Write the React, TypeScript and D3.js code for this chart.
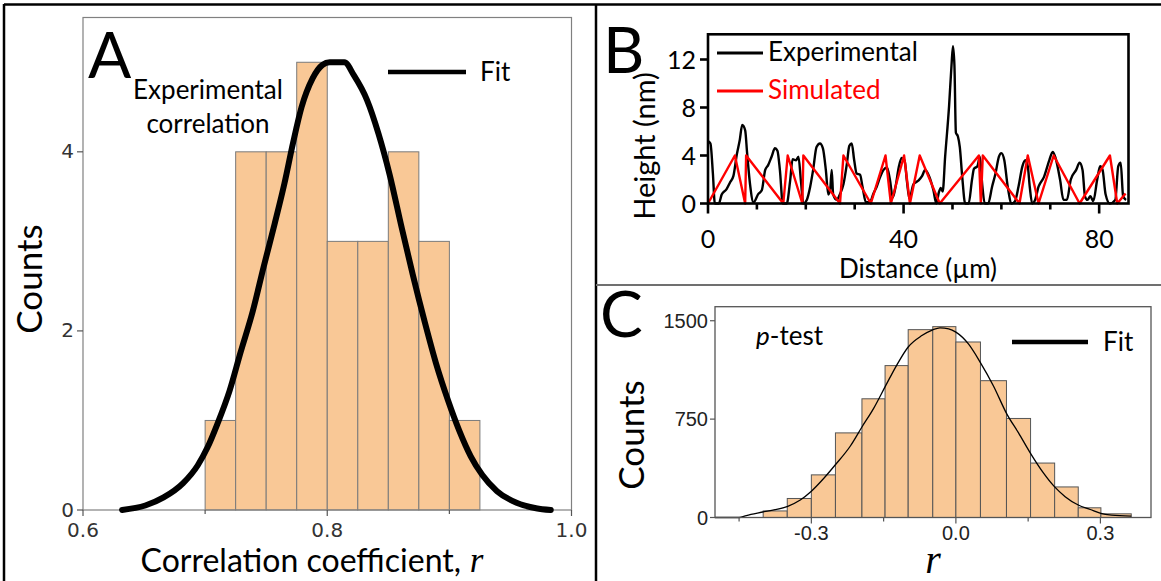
import React from 'react';
import * as d3 from 'd3';

// ---------- Panel A data ----------
const A_BIN_EDGES = [0.70, 0.725, 0.75, 0.775, 0.80, 0.825, 0.85, 0.875, 0.90, 0.925];
const A_COUNTS = [1, 4, 4, 5, 3, 3, 4, 3, 1];
const A_FIT_X = [0.632, 0.651, 0.666, 0.682, 0.694, 0.702, 0.710, 0.720, 0.729, 0.739, 0.748, 0.757, 0.765, 0.772, 0.779, 0.788, 0.796, 0.802, 0.814, 0.822, 0.8325, 0.842, 0.851, 0.861, 0.870, 0.880, 0.889, 0.899, 0.908, 0.9175, 0.927, 0.939, 0.955, 0.971, 0.983];
const A_FIT_Y = [0, 0.05, 0.14, 0.3, 0.5, 0.7, 0.96, 1.33, 1.76, 2.22, 2.72, 3.2, 3.65, 4.1, 4.5, 4.82, 4.97, 5.0, 5.0, 4.85, 4.58, 4.2, 3.75, 3.15, 2.63, 2.09, 1.64, 1.22, 0.89, 0.6, 0.39, 0.21, 0.08, 0.02, 0];
const A_X_TICKS = [0.6, 0.8, 1.0];
const A_X_TICK_LABELS = ['0.6', '0.8', '1.0'];
const A_X_MINOR = [0.7, 0.9];
const A_Y_TICKS = [0, 2, 4];

// ---------- Panel B data ----------
const B_EXP_X = [0, 0.5, 1.0, 1.4, 2.2, 2.8, 3.8, 4.5, 5.2, 5.9, 6.5, 7.0, 7.6, 8.0, 8.6, 9.3, 10.3, 11.0, 11.7, 12.3, 13.0, 13.7, 14.2, 14.7, 15.3, 16.1, 16.8, 17.3, 18.0, 18.5, 19.0, 19.5, 20.2, 20.9, 21.5, 22.2, 22.9, 23.5, 24.1, 24.6, 25.0, 25.3, 25.6, 26.3, 27.0, 27.7, 28.4, 28.9, 29.4, 29.9, 30.4, 31.1, 31.6, 32.3, 33.1, 33.8, 34.5, 35.2, 35.9, 36.6, 37.2, 37.8, 38.4, 39.0, 39.6, 40.2, 40.7, 41.2, 42.0, 43.0, 43.8, 44.4, 45.3, 46.1, 46.7, 47.2, 47.6, 48.0, 48.5, 49.3, 49.8, 50.1, 50.4, 50.7, 51.1, 51.5, 52.0, 52.6, 53.3, 54.0, 54.4, 55.1, 55.6, 56.1, 56.6, 57.3, 58.1, 58.8, 59.5, 60.0, 60.6, 61.3, 62.1, 62.8, 63.5, 64.3, 64.9, 65.4, 65.8, 66.3, 66.9, 67.6, 68.7, 69.8, 70.5, 71.0, 72.0, 72.7, 73.4, 74.2, 75.3, 76.0, 76.6, 77.1, 77.6, 78.2, 78.8, 79.6, 80.2, 80.7, 81.3, 82.2, 83.3, 83.9, 84.4, 84.9, 85.5];
const B_EXP_Y = [5.2, 5.0, 2.5, 0, 0, 0.75, 1.2, 1.75, 2.3, 4.1, 5.3, 6.55, 6.1, 4.2, 1.6, 0.1, 0.8, 1.1, 2.8, 3.2, 3.9, 4.6, 4.4, 2.8, 0, 0, 1.9, 3.7, 3.6, 3.9, 1.9, 0, 0.3, 1.4, 2.8, 4.7, 5.0, 4.6, 2.8, 0.75, 1.2, 2.8, 0.75, 0.3, 0.8, 1.6, 3.3, 4.8, 5.0, 3.6, 2.5, 2.4, 1.4, 0.1, 0.1, 0.8, 1.4, 2.2, 2.8, 3.0, 2.0, 0.5, 1.5, 3.0, 3.8, 3.6, 1.8, 0.4, 1.6, 1.9, 2.3, 2.8, 2.2, 1.1, 0, 0.9, 1.3, 1.0, 3.9, 8.1, 11.5, 13.1, 11.5, 5.9, 5.6, 4.7, 2.2, 0, 0, 2.0, 2.9, 3.1, 3.9, 1.5, 0, 0, 1.4, 2.5, 3.9, 4.2, 3.6, 1.4, 0, 0.2, 1.4, 3.1, 3.6, 3.1, 1.4, 0, 0.3, 1.4, 2.2, 3.6, 4.3, 3.9, 2.0, 0.3, 0.3, 2.0, 2.8, 3.4, 2.8, 0.6, 0.3, 0.6, 0.2, 2.0, 3.1, 2.8, 0.8, 0, 0.3, 3.1, 3.4, 0.6, 0.3];
const B_SIM_X = [0, 5.5, 7.6, 7.8, 15.4, 16.3, 19.3, 19.5, 27.0, 27.7, 33.3, 36.3, 37.4, 40.1, 41.3, 43.3, 47.4, 55.4, 55.8, 56.2, 63.7, 65.4, 67.6, 70.7, 76.0, 82.2, 83.7, 85.4];
const B_SIM_Y = [0, 4, 0, 4, 0, 4, 0, 4, 0, 4, 0, 4, 0, 4, 0, 4, 0, 4, 0, 4, 0, 4, 0, 4, 0, 4, 0, 0.84];
const B_Y_TICKS = [0, 4, 8, 12];
const B_X_TICKS = [0, 10, 20, 30, 40, 50, 60, 70, 80];
const B_X_LABELED = [0, 40, 80];

// ---------- Panel C data ----------
const C_BIN_EDGES = [-0.40, -0.35, -0.30, -0.25, -0.195, -0.147, -0.099, -0.048, 0, 0.051, 0.105, 0.155, 0.205, 0.254, 0.301, 0.364];
const C_COUNTS = [50, 145, 325, 645, 905, 1158, 1432, 1455, 1338, 1043, 755, 415, 233, 74, 28];
const C_FIT_X = [-0.5, -0.45, -0.435, -0.398, -0.349, -0.323, -0.3, -0.275, -0.2506, -0.219, -0.195, -0.171, -0.146, -0.123, -0.099, -0.0706, -0.048, -0.033, -0.0149, 0, 0.026, 0.0506, 0.078, 0.1056, 0.130, 0.1546, 0.182, 0.2045, 0.2268, 0.254, 0.279, 0.301, 0.323, 0.364];
const C_FIT_Y = [0, 0, 15, 44, 85, 133, 200, 295, 400, 545, 690, 830, 1003, 1160, 1300, 1387, 1431, 1446, 1438, 1413, 1323, 1183, 1003, 790, 645, 491, 338, 235, 159, 95, 61, 31, 18, 10];
const C_Y_TICKS = [0, 750, 1500];
const C_X_TICKS = [-0.3, 0, 0.3];
const C_X_TICK_LABELS = ['-0.3', '0.0', '0.3'];
const C_X_MINOR = [-0.45, -0.15, 0.15];

const BAR_FILL = '#F9C896';
const SANS = 'Lato, "Open Sans", sans-serif';

function PanelA() {
  const x = d3.scaleLinear().domain([0.6, 1.0]).range([83, 571.5]);
  const y = d3.scaleLinear().domain([0, 5.5]).range([510, 17.5]);
  const pts: [number, number][] = A_FIT_X.map((v, i) => [v, A_FIT_Y[i]]);
  const line = d3.line<[number, number]>().x(d => x(d[0])).y(d => y(d[1])).curve(d3.curveMonotoneX);
  return (
    <g>
      {A_COUNTS.map((c, i) => (
        <rect key={i} x={x(A_BIN_EDGES[i])} y={y(c)} width={x(A_BIN_EDGES[i + 1]) - x(A_BIN_EDGES[i])}
          height={y(0) - y(c)} fill={BAR_FILL} stroke="#7a7a7a" strokeWidth={1} />
      ))}
      <rect x={x(0.6)} y={y(5.5)} width={x(1.0) - x(0.6)} height={y(0) - y(5.5)} fill="none" stroke="#808080" strokeWidth={1.2} />
      {A_Y_TICKS.map(t => (
        <g key={t}>
          <line x1={x(0.6) - 6} x2={x(0.6)} y1={y(t)} y2={y(t)} stroke="#555" strokeWidth={1.2} />
          <text x={x(0.6) - 9} y={y(t) + 6.5} textAnchor="end" fontFamily="DejaVu Sans" fontSize={20} fill="#333">{t}</text>
        </g>
      ))}
      {A_X_TICKS.map((t, i) => (
        <g key={t}>
          <line x1={x(t)} x2={x(t)} y1={y(0)} y2={y(0) + 6} stroke="#555" strokeWidth={1.2} />
          <text x={x(t)} y={y(0) + 26.5} textAnchor="middle" fontFamily="DejaVu Sans" fontSize={20} fill="#333">{A_X_TICK_LABELS[i]}</text>
        </g>
      ))}
      {A_X_MINOR.map(t => (
        <line key={t} x1={x(t)} x2={x(t)} y1={y(0)} y2={y(0) + 4} stroke="#555" strokeWidth={1.2} />
      ))}
      <path d={line(pts) || ''} fill="none" stroke="#000" strokeWidth={6} strokeLinejoin="round" strokeLinecap="round" />
      <text x={88} y={78} fontFamily={SANS} fontSize={64} fill="#000">A</text>
      <text x={208} y={99} textAnchor="middle" fontFamily={SANS} fontSize={26} fill="#000">Experimental</text>
      <text x={208} y={133} textAnchor="middle" fontFamily={SANS} fontSize={26} fill="#000">correlation</text>
      <line x1={388} x2={466} y1={72} y2={72} stroke="#000" strokeWidth={4.5} />
      <text x={480} y={81} fontFamily={SANS} fontSize={26} fill="#000">Fit</text>
      <text transform="translate(42,279) rotate(-90)" textAnchor="middle" fontFamily={SANS} fontSize={35} fill="#000">Counts</text>
      <text x={312} y={572} textAnchor="middle" fontFamily={SANS} fontSize={32} fill="#000">
        Correlation coefficient,
        <tspan fontFamily='"Liberation Serif", serif' fontStyle="italic" fontSize={35}> r</tspan>
      </text>
    </g>
  );
}

function PanelB() {
  const x = d3.scaleLinear().domain([0, 86]).range([708, 1128.5]);
  const y = d3.scaleLinear().domain([0, 14.1]).range([203.5, 34.3]);
  const line = d3.line<[number, number]>().x(d => x(d[0])).y(d => y(d[1]));
  const exp: [number, number][] = B_EXP_X.map((v, i) => [v, B_EXP_Y[i]]);
  const sim: [number, number][] = B_SIM_X.map((v, i) => [v, B_SIM_Y[i]]);
  const expLine = d3.line<[number, number]>().x(d => x(d[0])).y(d => y(d[1])).curve(d3.curveMonotoneX);
  return (
    <g>
      <path d={expLine(exp) || ''} fill="none" stroke="#000" strokeWidth={2.4} strokeLinejoin="round" />
      <path d={line(sim) || ''} fill="none" stroke="#ff0000" strokeWidth={2.4} strokeLinejoin="round" />
      <rect x={x(0)} y={y(14.1)} width={x(86) - x(0)} height={y(0) - y(14.1)} fill="none" stroke="#000" strokeWidth={2.6} />
      {B_Y_TICKS.map(t => (
        <g key={t}>
          <line x1={x(0) - 8} x2={x(0)} y1={y(t)} y2={y(t)} stroke="#000" strokeWidth={2.6} />
          <text x={x(0) - 12} y={y(t) + 9} textAnchor="end" fontFamily={SANS} fontSize={25} fill="#000">{t}</text>
        </g>
      ))}
      {B_X_TICKS.map(t => (
        <line key={t} x1={x(t)} x2={x(t)} y1={y(0)} y2={y(0) + (B_X_LABELED.includes(t) ? 10 : 6)} stroke="#000" strokeWidth={2.6} />
      ))}
      {B_X_LABELED.map(t => (
        <text key={t} x={x(t)} y={248} textAnchor="middle" fontFamily={SANS} fontSize={25} fill="#000">{t}</text>
      ))}
      <text x={918} y={278} textAnchor="middle" fontFamily={SANS} fontSize={26} fill="#000">Distance (µm)</text>
      <text transform="translate(655,146) rotate(-90)" textAnchor="middle" fontFamily={SANS} fontSize={29} fill="#000">Height (nm)</text>
      <text x={603} y={73} fontFamily={SANS} fontSize={64} fill="#000">B</text>
      <line x1={717} x2={763} y1={53} y2={53} stroke="#000" strokeWidth={3} />
      <text x={768} y={61} fontFamily={SANS} fontSize={26} fill="#000">Experimental</text>
      <line x1={717} x2={763} y1={91} y2={91} stroke="#ff0000" strokeWidth={3} />
      <text x={768} y={99} fontFamily={SANS} fontSize={26} fill="#ff0000">Simulated</text>
    </g>
  );
}

function PanelC() {
  const x = d3.scaleLinear().domain([-0.5, 0.405]).range([715, 1151]);
  const y = d3.scaleLinear().domain([0, 1607]).range([517.5, 306.7]);
  const pts: [number, number][] = C_FIT_X.map((v, i) => [v, C_FIT_Y[i]]);
  const line = d3.line<[number, number]>().x(d => x(d[0])).y(d => y(d[1])).curve(d3.curveMonotoneX);
  return (
    <g>
      {C_COUNTS.map((c, i) => (
        <rect key={i} x={x(C_BIN_EDGES[i])} y={y(c)} width={x(C_BIN_EDGES[i + 1]) - x(C_BIN_EDGES[i])}
          height={y(0) - y(c)} fill={BAR_FILL} stroke="#555" strokeWidth={1} />
      ))}
      <path d={line(pts) || ''} fill="none" stroke="#000" strokeWidth={1.3} />
      <rect x={x(-0.5)} y={y(1607)} width={x(0.405) - x(-0.5)} height={y(0) - y(1607)} fill="none" stroke="#555" strokeWidth={1.3} />
      {C_Y_TICKS.map(t => (
        <g key={t}>
          <line x1={x(-0.5) - 5} x2={x(-0.5)} y1={y(t)} y2={y(t)} stroke="#555" strokeWidth={1.2} />
          <text x={x(-0.5) - 7} y={y(t) + 7} textAnchor="end" fontFamily='"Liberation Sans", Arial' fontSize={20} fill="#222">{t}</text>
        </g>
      ))}
      {C_X_TICKS.map((t, i) => (
        <g key={t}>
          <line x1={x(t)} x2={x(t)} y1={y(0)} y2={y(0) + 6} stroke="#555" strokeWidth={1.2} />
          <text x={x(t)} y={540} textAnchor="middle" fontFamily='"Liberation Sans", Arial' fontSize={20} fill="#222">{C_X_TICK_LABELS[i]}</text>
        </g>
      ))}
      {C_X_MINOR.map(t => (
        <line key={t} x1={x(t)} x2={x(t)} y1={y(0)} y2={y(0) + 4} stroke="#555" strokeWidth={1.2} />
      ))}
      <text x={600} y={337} fontFamily={SANS} fontSize={64} fill="#000">C</text>
      <text x={756} y={345} fontFamily={SANS} fontSize={26} fill="#000">
        <tspan fontStyle="italic">p</tspan>-test
      </text>
      <line x1={1012} x2={1088} y1={342} y2={342} stroke="#000" strokeWidth={4.5} />
      <text x={1103} y={351} fontFamily={SANS} fontSize={26} fill="#000">Fit</text>
      <text transform="translate(644,435) rotate(-90)" textAnchor="middle" fontFamily={SANS} fontSize={35} fill="#000">Counts</text>
      <text x={933} y={573} textAnchor="middle" fontFamily='"Liberation Serif", serif' fontStyle="italic" fontSize={40} fill="#000">r</text>
    </g>
  );
}

export default function App() {
  return (
    <svg width={1161} height={581} viewBox="0 0 1161 581"
      style={{ position: 'absolute', left: 0, top: 0, background: '#fff' }}>
      <rect x={0} y={0} width={1161} height={581} fill="#fff" />
      <PanelA />
      <PanelB />
      <PanelC />
      <line x1={4} x2={1161} y1={4.5} y2={4.5} stroke="#000" strokeWidth={2.5} />
      <line x1={4} x2={4} y1={4} y2={581} stroke="#000" strokeWidth={2.5} />
      <line x1={596} x2={596} y1={4} y2={581} stroke="#000" strokeWidth={2.5} />
      <line x1={596} x2={1161} y1={285} y2={285} stroke="#707070" strokeWidth={2} />
    </svg>
  );
}
